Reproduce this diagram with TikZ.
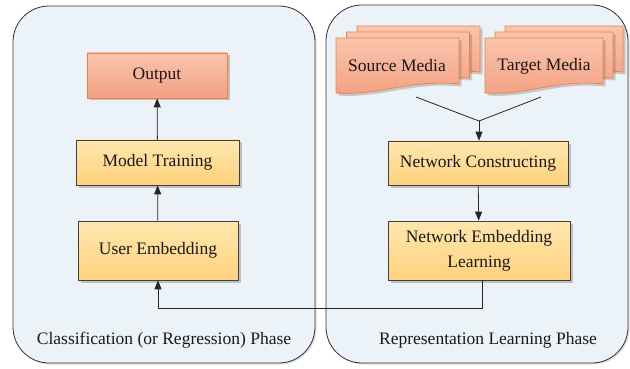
\documentclass[tikz,border=0pt]{standalone}
\usepackage{fontspec}
\setmainfont{Liberation Serif}
\usepackage{xcolor}
\usetikzlibrary{arrows.meta, shadows, calc}

\definecolor{panelfill}{RGB}{236,243,248}
\definecolor{paneldraw}{RGB}{50,50,50}
\definecolor{yellowtop}{RGB}{255,230,174}
\definecolor{yellowbot}{RGB}{255,210,124}
\definecolor{salmontop}{RGB}{249,196,174}
\definecolor{salmonbot}{RGB}{243,161,129}
\definecolor{orangedraw}{RGB}{238,130,66}

% one sheet of a media stack: left, top, width
\newcommand{\mediasheet}[3]{%
  \draw[sheet] (#1,#2) -- ++(#3,0) -- ++(0,46)
    .. controls ($(#1,#2)+(0.6*#3,41)$) and ($(#1,#2)+(0.35*#3,58)$) .. (#1,#2+55) -- cycle;}

\begin{document}
\begin{tikzpicture}[x=1pt, y=-1pt,
    panel/.style={draw=paneldraw, line width=0.8pt, fill=panelfill, rounded corners=36pt,
      drop shadow={shadow xshift=1.5pt, shadow yshift=-1.5pt, opacity=0.25, fill=black!50}},
    stage/.style={draw=black!75, line width=0.7pt, top color=yellowtop, bottom color=yellowbot,
      minimum height=45pt, font=\fontsize{17.5}{25}\selectfont, text=black!90, align=center,
      drop shadow={shadow xshift=2.5pt, shadow yshift=-2.5pt, opacity=0.35, fill=black!60}},
    result/.style={stage, draw=orangedraw, top color=salmontop, bottom color=salmonbot},
    sheet/.style={draw=orangedraw, line width=0.7pt, top color=salmontop, bottom color=salmonbot,
      drop shadow={shadow xshift=2.5pt, shadow yshift=-2.5pt, opacity=0.3, fill=black!60}},
    phase/.style={font=\fontsize{17.5}{22}\selectfont, text=black!90},
    link/.style={line width=0.8pt, draw=black!85, -{Triangle[length=9pt, width=7pt]}},
    line/.style={line width=0.8pt, draw=black!85}
]
\useasboundingbox (0,0) rectangle (630,369);

% Phase panels
\draw[panel] (13,6) rectangle (315,363);
\draw[panel] (326,5) rectangle (628,363);
\node[phase] (clslabel) at (164,340) {Classification (or Regression) Phase};
\node[phase] (replabel) at (488,340) {Representation Learning Phase};

% Classification side
\node[result, minimum width=140pt] (output) at (157,75.5) {Output};
\node[stage, minimum width=163pt] (model) at (157.5,162.5) {Model Training};
\node[stage, minimum width=160pt, minimum height=59pt] (user) at (158,250.5) {User Embedding};

\draw[link] (model) -- (output);
\draw[link] (user) -- (model);

% Source and target media stacks
\mediasheet{357}{26}{123}
\mediasheet{346.5}{32}{123}
\mediasheet{336}{38}{123}
\node[phase] (source) at (397,66) {Source Media};

\mediasheet{505}{26}{118}
\mediasheet{495}{32}{118}
\mediasheet{485}{38}{118}
\node[phase] (target) at (544,66) {Target Media};

% Representation learning side
\node[stage, minimum width=180pt, minimum height=44pt] (netcons) at (478,163) {Network Constructing};
\node[stage, minimum width=182pt, minimum height=59pt] (netemb) at (479,250.5) {Network Embedding\\Learning};

\coordinate (srcout) at (416,97);
\coordinate (tgtout) at (541,97);
\coordinate (merge) at (479,121);
\draw[line] (srcout) -- (merge) -- (tgtout);
\draw[link] (merge) -- (merge |- netcons.north);
\draw[link] (netcons) -- (netemb);

% Embeddings fed back to the user side
\coordinate (feedback) at (482,308);
\draw[link] (netemb.south -| feedback) -- (feedback) -| (user.south);

\end{tikzpicture}
\end{document}
